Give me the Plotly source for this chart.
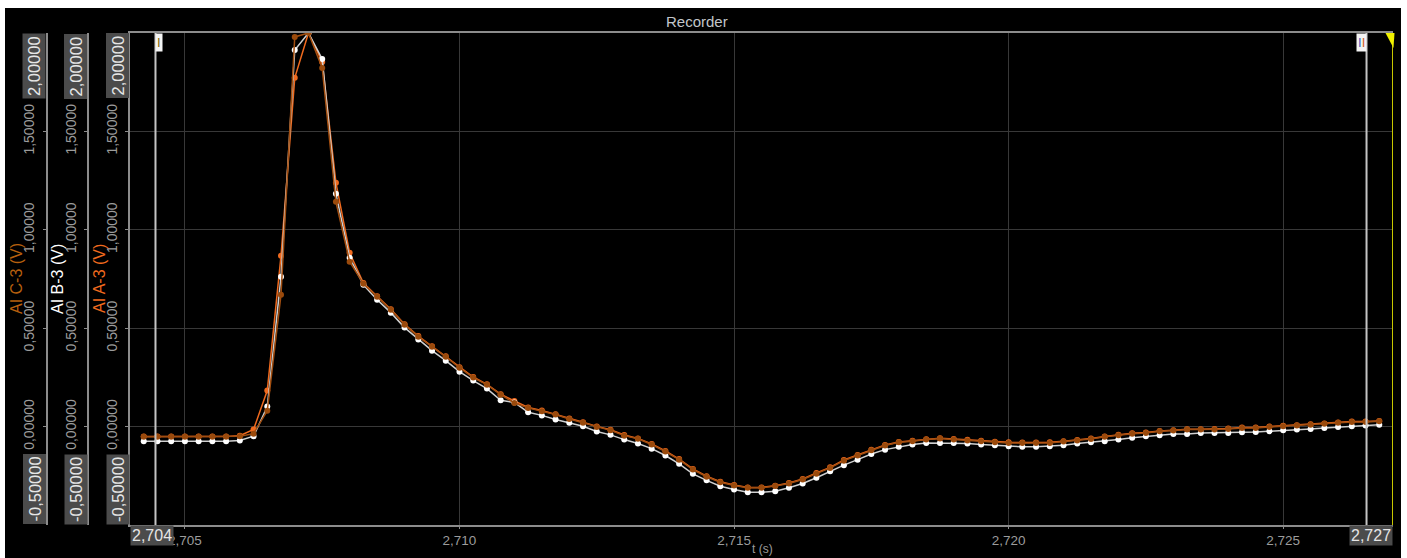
import plotly.graph_objects as go

# ---------------------------------------------------------------------------
# Recorder data: three analog inputs sampled at 4 kHz
# ---------------------------------------------------------------------------
SAMPLE_START = 2.70425      # s, first stored sample
SAMPLE_INTERVAL = 0.00025   # s (4 kHz)

ai_a3 = [
    -0.050, -0.050, -0.050, -0.050, -0.050, -0.050, -0.050, -0.046, -0.015, 0.183,
    0.868, 1.772, 2.000, 1.853, 1.239, 0.883, 0.730, 0.662, 0.596, 0.520,
    0.460, 0.408, 0.357, 0.302, 0.252, 0.215, 0.165, 0.130, 0.097, 0.082,
    0.063, 0.041, 0.022, 0.001, -0.016, -0.043, -0.060, -0.088, -0.124, -0.165,
    -0.215, -0.252, -0.280, -0.297, -0.309, -0.309, -0.300, -0.286, -0.266, -0.236,
    -0.207, -0.170, -0.144, -0.117, -0.093, -0.078, -0.072, -0.064, -0.059, -0.063,
    -0.067, -0.072, -0.077, -0.080, -0.081, -0.081, -0.080, -0.074, -0.068, -0.061,
    -0.050, -0.042, -0.034, -0.030, -0.022, -0.018, -0.013, -0.013, -0.012, -0.010,
    -0.005, -0.005, 0.000, 0.004, 0.007, 0.012, 0.016, 0.021, 0.026, 0.026,
    0.029,
]
ai_b3 = [
    -0.075, -0.075, -0.075, -0.075, -0.075, -0.075, -0.075, -0.071, -0.049, 0.102,
    0.761, 1.914, 2.000, 1.868, 1.183, 0.858, 0.721, 0.645, 0.579, 0.503,
    0.442, 0.386, 0.335, 0.279, 0.234, 0.193, 0.134, 0.123, 0.073, 0.057,
    0.036, 0.019, 0.002, -0.025, -0.042, -0.066, -0.086, -0.112, -0.147, -0.189,
    -0.240, -0.273, -0.303, -0.320, -0.334, -0.334, -0.328, -0.311, -0.289, -0.260,
    -0.227, -0.196, -0.168, -0.139, -0.117, -0.103, -0.091, -0.083, -0.083, -0.083,
    -0.086, -0.091, -0.095, -0.100, -0.103, -0.103, -0.100, -0.095, -0.086, -0.080,
    -0.075, -0.066, -0.057, -0.049, -0.044, -0.037, -0.037, -0.032, -0.032, -0.032,
    -0.029, -0.027, -0.024, -0.019, -0.015, -0.012, -0.007, -0.002, 0.002, 0.005,
    0.010,
]
ai_c3 = [
    -0.051, -0.051, -0.051, -0.051, -0.051, -0.051, -0.051, -0.049, -0.036, 0.081,
    0.670, 1.980, 2.000, 1.822, 1.142, 0.838, 0.726, 0.660, 0.594, 0.518,
    0.457, 0.406, 0.355, 0.299, 0.249, 0.213, 0.162, 0.120, 0.095, 0.078,
    0.061, 0.039, 0.019, -0.002, -0.019, -0.046, -0.062, -0.091, -0.127, -0.168,
    -0.218, -0.255, -0.283, -0.299, -0.311, -0.311, -0.302, -0.289, -0.269, -0.239,
    -0.210, -0.173, -0.147, -0.120, -0.096, -0.080, -0.075, -0.066, -0.061, -0.066,
    -0.070, -0.075, -0.080, -0.083, -0.083, -0.083, -0.083, -0.076, -0.070, -0.063,
    -0.052, -0.044, -0.036, -0.032, -0.024, -0.020, -0.015, -0.015, -0.015, -0.012,
    -0.007, -0.007, -0.002, 0.002, 0.005, 0.010, 0.014, 0.019, 0.024, 0.024,
    0.027,
]
time_s = [SAMPLE_START + i * SAMPLE_INTERVAL for i in range(len(ai_a3))]

channel_names = ["AI A-3 (V)", "AI B-3 (V)", "AI C-3 (V)"]
y_range = [-0.5, 2.0]
y_ticks = [0.0, 0.5, 1.0, 1.5]
t_range = [2.704, 2.727]
t_ticks = [2.705, 2.710, 2.715, 2.720, 2.725]
cursor_times = [2.704464, 2.726518]

# ---------------------------------------------------------------------------
# Geometry helpers (pixel -> paper coordinates)
# ---------------------------------------------------------------------------
W, H = 1407, 558
ML, MR, MT, MB = 0, 14, 33, 33
PW, PH = W - ML - MR, H - MT - MB


def paper_x(px):
    return (px - ML) / PW


def paper_y(py):
    return (H - MB - py) / PH


AXIS_PX = {"y": 130, "y2": 88, "y3": 46.5}

COL_A = "#f06a1e"
COL_B = "#ffffff"
COL_C = "#9a4a0c"
GRID = "#383838"
AXLINE = "#8c8c8c"
TICKTXT = "#9c9c9c"
FONT = "Liberation Sans, Arial, sans-serif"


def fmt(v, nd):
    return f"{v:.{nd}f}".replace(".", ",")


fig = go.Figure()

fig.add_trace(go.Scatter(
    x=time_s, y=ai_b3, yaxis="y2", mode="lines+markers", name=channel_names[1],
    line=dict(color="#d0d0d0", width=1.5), marker=dict(color=COL_B, size=6),
))
fig.add_trace(go.Scatter(
    x=time_s, y=ai_a3, yaxis="y", mode="lines+markers", name=channel_names[0],
    line=dict(color=COL_A, width=1.5), marker=dict(color=COL_A, size=6),
))
fig.add_trace(go.Scatter(
    x=time_s, y=ai_c3, yaxis="y3", mode="lines+markers", name=channel_names[2],
    line=dict(color="#a24e10", width=1.5), marker=dict(color=COL_C, size=6),
))

yaxis_common = dict(
    range=y_range, tickvals=y_ticks, tickformat=".5f", tickangle=-90,
    tickfont=dict(size=14, color=TICKTXT, family=FONT),
    ticks="outside", ticklen=3, tickcolor=AXLINE, ticklabelstandoff=3,
    showline=True, linecolor=AXLINE, linewidth=1.5,
    zeroline=False, fixedrange=True,
)

fig.update_layout(
    width=W, height=H,
    margin=dict(l=ML, r=MR, t=MT, b=MB, pad=0),
    paper_bgcolor="#000000", plot_bgcolor="#000000",
    separators=",.",
    showlegend=False,
    font=dict(family=FONT),
    xaxis=dict(
        domain=[paper_x(AXIS_PX["y"]), 1.0], range=t_range,
        tickvals=t_ticks, tickformat=".3f",
        tickfont=dict(size=13.5, color=TICKTXT, family=FONT),
        ticks="outside", ticklen=2, tickcolor=AXLINE,
        showgrid=True, gridcolor=GRID, gridwidth=1,
        showline=True, linecolor=AXLINE, linewidth=1.5, mirror=True,
        zeroline=False,
    ),
    yaxis=dict(**yaxis_common, anchor="x", showgrid=True, gridcolor=GRID),
    yaxis2=dict(**yaxis_common, anchor="free", overlaying="y", side="left",
                position=paper_x(AXIS_PX["y2"]), showgrid=False),
    yaxis3=dict(**yaxis_common, anchor="free", overlaying="y", side="left",
                position=paper_x(AXIS_PX["y3"]), showgrid=False),
)

annotations = []
BOX_BG = "#4b4b4b"
BOX_TXT = "#e6e6e6"

# range end labels on the three value axes
for ax in ["y", "y2", "y3"]:
    xp = paper_x(AXIS_PX[ax] - 0.5)
    annotations.append(dict(
        xref="paper", yref=ax, x=xp, y=y_range[1], xanchor="right", yanchor="top",
        text=fmt(y_range[1], 5), textangle=-90, showarrow=False,
        bgcolor=BOX_BG, borderpad=2, font=dict(size=16.5, color=BOX_TXT, family=FONT),
    ))
    annotations.append(dict(
        xref="paper", yref=ax, x=xp, y=y_range[0], xanchor="right", yanchor="bottom",
        text=fmt(y_range[0], 5), textangle=-90, showarrow=False,
        bgcolor=BOX_BG, borderpad=2, font=dict(size=16.5, color=BOX_TXT, family=FONT),
    ))

# range end labels on the time axis
annotations.append(dict(
    xref="x", yref="paper", x=t_range[0], y=0, xanchor="left", yanchor="top",
    text=fmt(t_range[0], 3), showarrow=False, bgcolor=BOX_BG, borderpad=1,
    font=dict(size=16, color=BOX_TXT, family=FONT),
))
annotations.append(dict(
    xref="x", yref="paper", x=t_range[1], y=0, xanchor="right", yanchor="top",
    text=fmt(t_range[1], 3), showarrow=False, bgcolor=BOX_BG, borderpad=1,
    font=dict(size=16, color=BOX_TXT, family=FONT),
))

# channel titles
for name, px, col in [(channel_names[2], 16, "#b8600e"),
                      (channel_names[1], 57, "#ffffff"),
                      (channel_names[0], 99, COL_A)]:
    annotations.append(dict(
        xref="paper", yref="paper", x=paper_x(px), y=paper_y(279),
        xanchor="center", yanchor="middle", text=name, textangle=-90,
        showarrow=False, font=dict(size=16, color=col, family=FONT),
    ))

# chart title and time axis title
annotations.append(dict(
    xref="paper", yref="paper", x=paper_x(697), y=paper_y(22),
    xanchor="center", yanchor="middle", text="Recorder", showarrow=False,
    font=dict(size=15, color="#c2c6ca", family=FONT),
))
annotations.append(dict(
    xref="paper", yref="paper", x=paper_x(762), y=paper_y(557),
    xanchor="center", yanchor="bottom", text="t (s)", showarrow=False,
    borderpad=0, font=dict(size=12, color=TICKTXT, family=FONT),
))

# cursor flags
annotations.append(dict(
    xref="x", yref="paper", x=cursor_times[0], y=1, xanchor="left", yanchor="top",
    text="<span style='color:#8a6a00'>I</span>", showarrow=False,
    bgcolor="#f4f4f4", borderpad=1, font=dict(size=13, family=FONT),
))
annotations.append(dict(
    xref="x", yref="paper", x=cursor_times[1], y=1, xanchor="right", yanchor="top",
    text="<span style='color:#3a5cc0'>I</span><span style='color:#d0601e'>I</span>",
    showarrow=False, bgcolor="#f4f4f4", borderpad=1, font=dict(size=13, family=FONT),
))

shapes = []
# cursor lines
for tc in cursor_times:
    shapes.append(dict(type="line", xref="x", yref="paper", x0=tc, x1=tc, y0=0, y1=1,
                       line=dict(color="#c4c4c4", width=2), layer="above"))
# trigger marker at the right edge
shapes.append(dict(type="line", xref="x", yref="paper", x0=t_range[1], x1=t_range[1],
                   y0=0, y1=1, line=dict(color="#c8c800", width=2), layer="above"))
tri = "M {:.5f} {:.5f} L {:.5f} {:.5f} L {:.5f} {:.5f} Z".format(
    paper_x(1385.5), paper_y(33), paper_x(1394.5), paper_y(33), paper_x(1393.5), paper_y(48))
shapes.append(dict(type="path", xref="paper", yref="paper", path=tri,
                   fillcolor="#f0f000", line=dict(width=0), layer="above"))
# window frame
for x0, x1, y0, y1 in [(0, W, 0, 8), (0, 5, 0, H), (1401, W, 0, H)]:
    shapes.append(dict(type="rect", xref="paper", yref="paper",
                       x0=paper_x(x0), x1=paper_x(x1), y0=paper_y(y1), y1=paper_y(y0),
                       fillcolor="#ffffff", line=dict(width=0), layer="above"))

fig.update_layout(annotations=annotations, shapes=shapes)

fig.write_html("out.html")
